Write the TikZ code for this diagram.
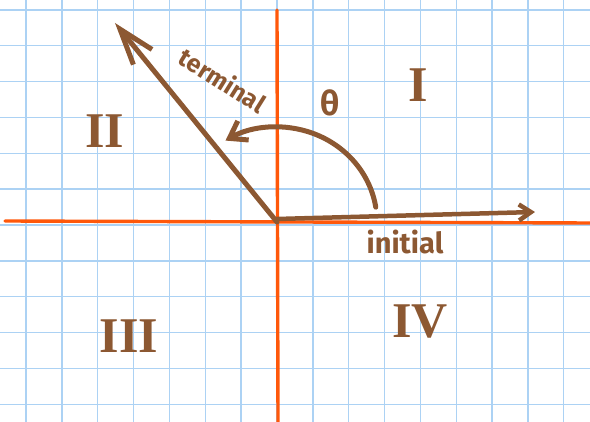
\documentclass[tikz,border=0pt]{standalone}
\usepackage{fontspec}
\setmainfont{Liberation Serif}
\newfontfamily\handfont{Fira Sans}
\usetikzlibrary{arrows.meta}

\definecolor{penbrown}{RGB}{140,88,50}
\definecolor{axisorange}{RGB}{255,88,10}
\definecolor{gridblue}{RGB}{172,210,244}

\begin{document}
\begin{tikzpicture}[
    x=1pt, y=1pt,
    line cap=round,
    gridline/.style={draw=gridblue, line width=1.4pt},
    axis/.style={draw=axisorange, line width=3.4pt},
    pen/.style={draw=penbrown, line width=5pt},
    bigtip/.style={-{Straight Barb[length=36pt, width=24pt, line width=5pt]}},
    smalltip/.style={-{Straight Barb[length=12pt, width=16pt, line width=4.5pt]}},
    midtip/.style={-{Straight Barb[length=16pt, width=22pt, line width=5pt]}},
    word/.style={text=penbrown, font=\handfont\bfseries\fontsize{25}{25}\selectfont},
    quadrant/.style={text=penbrown, font=\bfseries\fontsize{50}{50}\selectfont}
]
\useasboundingbox (-277,-200) rectangle (313,222);

% graph paper
\foreach \i in {-7,...,8}
    \draw[gridline] (\i*35.85,-200) -- (\i*35.85,222);
\foreach \j in {-5,...,6}
    \draw[gridline] (-277,\j*35.85-3) -- (313,\j*35.85-3);

% axes
\coordinate (top) at (0,212);
\coordinate (bottom) at (1,-200);
\coordinate (left) at (-272,1);
\coordinate (right) at (313,-1);
\draw[axis] (top) -- (bottom);
\draw[axis] (left) -- (right);

% rays
\coordinate (O) at (0,0);
\coordinate (initstart) at (0,3);
\coordinate (termtip) at (-162,199);
\coordinate (inittip) at (258,10);
\coordinate (thetastart) at (9:100 and 95);
\draw[pen, bigtip] (O) -- (termtip);
\draw[pen, line width=4.5pt, smalltip] (initstart) -- (inittip);
\draw[pen, midtip] (thetastart) arc[start angle=9, end angle=121, x radius=100, y radius=95];

% labels
\node[word, rotate=-32] (terminal) at (-54,142) {terminal};
\node[word, font=\handfont\bfseries\fontsize{29}{29}\selectfont] (initial) at (128,-20) {initial};
\node[text=penbrown, font=\handfont\bfseries\fontsize{34}{34}\selectfont] (theta) at (53,119) {θ};

\node[quadrant] (q1) at (141,137) {I};
\node[quadrant] (q2) at (-172,91) {II};
\node[quadrant] (q3) at (-148,-114) {III};
\node[quadrant] (q4) at (143,-100) {IV};

\end{tikzpicture}
\end{document}
